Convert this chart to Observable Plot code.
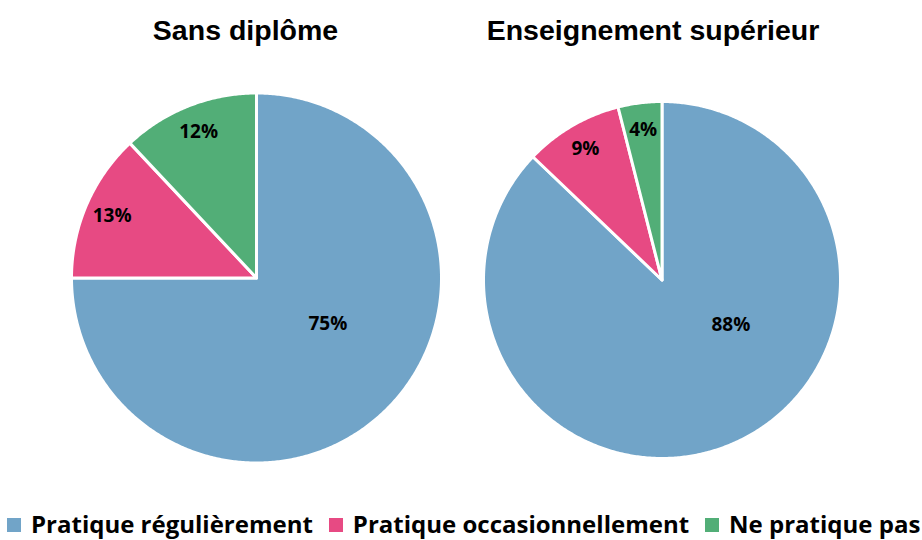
<!DOCTYPE html>
<html><head><meta charset="utf-8">
<script src="https://cdn.jsdelivr.net/npm/d3@7"></script>
<script src="https://cdn.jsdelivr.net/npm/@observablehq/plot@0.6"></script>
<style>
html,body{margin:0;padding:0;background:#fff;overflow:hidden;width:922px;height:540px}
#chart svg{display:block}
#legend{white-space:nowrap;font-family:"Open Sans",sans-serif;font-weight:700;font-size:24px;line-height:36px;height:34px;padding-left:7px;color:#000}
.item{display:inline-block;margin-right:16px}
.sw{display:inline-block;width:14px;height:14px;margin-right:10px;position:relative;top:-1px}
</style></head><body><div id="chart"></div><div id="legend"></div>
<script>
const groups = ["Sans diplôme", "Enseignement supérieur"];
const categories = ["Pratique régulièrement", "Pratique occasionnellement", "Ne pratique pas"];
const sansDiplome = [75, 13, 12];
const enseignementSuperieur = [88, 9, 4];
const values = [sansDiplome, enseignementSuperieur];

const colors = ["#71A4C8", "#E74A83", "#52AE77"];
const pies = [
  {cx: 256, cy: 277.5, r: 185, titleX: 245},
  {cx: 661.5, cy: 279.5, r: 178.5, titleX: 652.5}
];
const W = 922, H = 506;

const slices = [];
const labels = [];
values.forEach((vals, gi) => {
  const {cx, cy, r} = pies[gi];
  const total = d3.sum(vals);
  let a = 0;
  vals.forEach((v, ci) => {
    const a0 = a, a1 = a + v / total * 2 * Math.PI;
    a = a1;
    const key = gi + "-" + ci;
    slices.push({key, category: categories[ci], x: cx, y: cy});
    const n = Math.max(2, Math.ceil((a1 - a0) / (Math.PI / 360)));
    for (let i = 0; i <= n; i++) {
      const t = a0 + (a1 - a0) * i / n;
      slices.push({key, category: categories[ci], x: cx + r * Math.sin(t), y: cy - r * Math.cos(t)});
    }
    const big = v / total > 0.5;
    const la = big ? 123 * Math.PI / 180 : (a0 + a1) / 2;
    const lr = (big ? 0.46 : 0.85) * r;
    labels.push({x: cx + lr * Math.sin(la), y: cy - lr * Math.cos(la), text: v + "%"});
  });
});
const titles = groups.map((g, i) => ({text: g, x: pies[i].titleX, y: 39}));

const plot = Plot.plot({
  width: W, height: H, margin: 0,
  x: {domain: [0, W], range: [0, W], axis: null},
  y: {domain: [0, H], range: [0, H], axis: null},
  color: {domain: categories, range: colors},
  marks: [
    Plot.line(slices, {x: "x", y: "y", z: "key", fill: "category", stroke: "white", strokeWidth: 3, strokeLinejoin: "round", curve: "linear-closed"}),
    Plot.text(labels, {x: "x", y: "y", text: "text", fontFamily: "Open Sans", fontWeight: 700, fontSize: 19, fill: "black"}),
    Plot.text(titles, {x: "x", y: "y", text: "text", fontFamily: "Liberation Sans, Arial, sans-serif", fontWeight: 700, fontSize: 28.5, lineAnchor: "bottom", fill: "black"})
  ]
});
document.getElementById("chart").appendChild(plot);

const legend = document.getElementById("legend");
categories.forEach((c, i) => {
  const item = document.createElement("span");
  item.className = "item";
  const sw = document.createElement("span");
  sw.className = "sw";
  sw.style.background = colors[i];
  item.appendChild(sw);
  item.appendChild(document.createTextNode(c));
  legend.appendChild(item);
});
</script>
</body></html>
